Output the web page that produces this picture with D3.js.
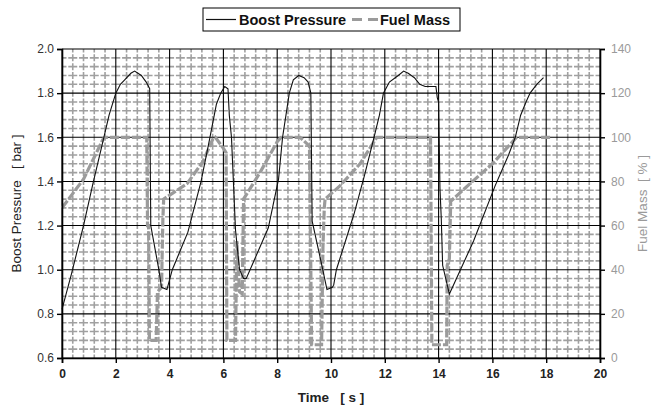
<!DOCTYPE html>
<html>
<head>
<meta charset="utf-8">
<script src="https://cdn.jsdelivr.net/npm/d3@7/dist/d3.min.js"></script>
<style>
  body { margin: 0; background: #fff; }
  svg { font-family: "Liberation Sans", Arial, sans-serif; }
</style>
</head>
<body>
<svg id="chart" width="653" height="410"></svg>
<script>
// boost pressure [bar] vs time [s]
var boostTime = [0, 0.35, 0.8, 1.15, 1.5, 1.75, 2.0, 2.17, 2.33, 2.56, 2.7, 2.95, 3.13, 3.26, 3.3, 3.6, 3.7, 3.9,
    4.1, 4.68, 5.17, 5.5, 5.74, 5.9, 6.05, 6.17, 6.22, 6.3, 6.45, 6.6, 6.75, 6.85,
    7.67, 8.05, 8.2, 8.35, 8.45, 8.6, 8.8, 9.0, 9.15, 9.25, 9.3, 9.66, 9.85, 10.05, 10.1,
    10.2, 10.85, 11.25, 11.6, 11.8, 11.95, 12.17, 12.5, 12.7, 12.87, 13.1, 13.3, 13.5, 13.9, 13.95, 14.0, 14.05, 14.1, 14.15, 14.4, 14.55,
    15.3, 16.1, 16.6, 16.85, 17.05, 17.25, 17.4, 17.65, 17.9];
var boostValue = [0.82, 0.98, 1.2, 1.39, 1.57, 1.7, 1.8, 1.84, 1.86, 1.89, 1.9, 1.88, 1.85, 1.82, 1.2, 1.0, 0.92, 0.91,
    1.0, 1.17, 1.4, 1.6, 1.75, 1.8, 1.83, 1.82, 1.7, 1.6, 1.18, 1.0, 0.96, 0.96,
    1.19, 1.41, 1.6, 1.72, 1.8, 1.86, 1.88, 1.87, 1.85, 1.8, 1.22, 1.02, 0.91, 0.92, 0.93,
    1.0, 1.25, 1.43, 1.6, 1.7, 1.8, 1.85, 1.88, 1.9, 1.89, 1.87, 1.84, 1.83, 1.83, 1.78, 1.76, 1.37, 1.23, 1.02, 0.89, 0.93,
    1.13, 1.38, 1.52, 1.6, 1.7, 1.76, 1.8, 1.84, 1.87];

// fuel mass [%] vs time [s]
var fuelTime = [0, 0.8, 1.52, 1.6, 3.15, 3.18, 3.22, 3.25, 3.5, 3.55, 3.7, 3.75, 3.78,
    4.65, 5.24, 5.6, 5.7, 6.0, 6.1, 6.13, 6.45, 6.5, 6.6, 6.7, 6.75,
    7.36, 8.0, 8.15, 8.85, 9.2, 9.28, 9.65, 9.7, 9.75, 9.78,
    10.33, 11.08, 11.7, 13.7, 13.75, 14.3, 14.32, 14.4, 14.45,
    15.17, 16.0, 16.9, 18.15];
var fuelValue = [68, 81, 99, 100, 100, 60, 60, 8, 8, 30, 32, 63, 72,
    79, 89, 99, 100, 95, 93, 8, 8, 53, 30, 29, 72,
    84, 98, 100, 100, 96, 6, 6, 50, 68, 72,
    78, 88, 100, 100, 6, 6, 42, 45, 71,
    79, 88, 100, 100];

var xTicks = [0, 2, 4, 6, 8, 10, 12, 14, 16, 18, 20];
var boostTicks = [0.6, 0.8, 1.0, 1.2, 1.4, 1.6, 1.8, 2.0];
var fuelTicks = [0, 20, 40, 60, 80, 100, 120, 140];

var svg = d3.select("#chart");
var pLeft = 62, pRight = 600, pTop = 49, pBottom = 358;

var x = d3.scaleLinear().domain([0, 20]).range([pLeft, pRight]);
var y = d3.scaleLinear().domain([0.6, 2.0]).range([pBottom, pTop]);
var y2 = d3.scaleLinear().domain([0, 140]).range([pBottom, pTop]);

// minor grid, gray with small breaks
var minorX = d3.range(0, 20.001, 0.4).filter(function (d) { return Math.abs(d / 2 - Math.round(d / 2)) > 0.01; });
var minorY = d3.range(0.6, 2.0001, 0.04).filter(function (d) { return Math.abs((d - 0.6) / 0.2 - Math.round((d - 0.6) / 0.2)) > 0.01; });
var sx = x(0.4) - x(0), sy = y(0.6) - y(0.64);

var grid = svg.append("g");
grid.selectAll(".mx").data(minorX).enter().append("line")
    .attr("x1", function (d) { return x(d); }).attr("x2", function (d) { return x(d); })
    .attr("y1", pTop).attr("y2", pBottom)
    .attr("stroke", "#a0a0a0").attr("stroke-width", 1.6)
    .attr("stroke-dasharray", (sy - 1.8) + " 1.8")
    .attr("stroke-dashoffset", (sy - 1.8) / 2);
grid.selectAll(".my").data(minorY).enter().append("line")
    .attr("x1", pLeft).attr("x2", pRight)
    .attr("y1", function (d) { return y(d); }).attr("y2", function (d) { return y(d); })
    .attr("stroke", "#a0a0a0").attr("stroke-width", 1.6)
    .attr("stroke-dasharray", (sx - 1.8) + " 1.8")
    .attr("stroke-dashoffset", (sx - 1.8) / 2);

// major grid
grid.selectAll(".gx").data(xTicks).enter().append("line")
    .attr("x1", function (d) { return x(d); }).attr("x2", function (d) { return x(d); })
    .attr("y1", pTop).attr("y2", pBottom)
    .attr("stroke", "#000").attr("stroke-width", 1.1);
grid.selectAll(".gy").data(boostTicks).enter().append("line")
    .attr("x1", pLeft).attr("x2", pRight)
    .attr("y1", function (d) { return y(d); }).attr("y2", function (d) { return y(d); })
    .attr("stroke", "#000").attr("stroke-width", 1.1);

// series
var fuelLine = d3.line()
    .x(function (d, i) { return x(fuelTime[i]); })
    .y(function (d) { return y2(d); });
svg.append("path").datum(fuelValue)
    .attr("d", fuelLine)
    .attr("fill", "none").attr("stroke", "#9b9b9b")
    .attr("stroke-width", 3.2).attr("stroke-dasharray", "9 2");

var boostLine = d3.line()
    .x(function (d, i) { return x(boostTime[i]); })
    .y(function (d) { return y(d); });
svg.append("path").datum(boostValue)
    .attr("d", boostLine)
    .attr("fill", "none").attr("stroke", "#111").attr("stroke-width", 1.1);

// axes
var xAxis = svg.append("g").attr("transform", "translate(0," + pBottom + ")")
    .call(d3.axisBottom(x).tickValues(xTicks).tickSize(5).tickPadding(6).tickFormat(d3.format("d")));
xAxis.selectAll("text").attr("font-size", 12).attr("font-weight", "bold").attr("fill", "#222");

var yAxis = svg.append("g").attr("transform", "translate(" + pLeft + ",0)")
    .call(d3.axisLeft(y).tickValues(boostTicks).tickSize(5).tickPadding(3).tickFormat(d3.format(".1f")));
yAxis.selectAll("text").attr("font-size", 12).attr("fill", "#333");

var yAxis2 = svg.append("g").attr("transform", "translate(" + pRight + ",0)")
    .call(d3.axisRight(y2).tickValues(fuelTicks).tickSize(5).tickPadding(6).tickFormat(d3.format("d")));
yAxis2.selectAll("text").attr("font-size", 12).attr("fill", "#9a9a9a");

svg.selectAll(".domain").attr("stroke", "#000").attr("stroke-width", 1.6);
svg.selectAll(".tick line").attr("stroke", "#000").attr("stroke-width", 1.4);

// axis titles
svg.append("text").attr("x", (pLeft + pRight) / 2).attr("y", 402)
    .attr("text-anchor", "middle").attr("font-size", 13.5).attr("font-weight", "bold")
    .attr("fill", "#222").attr("xml:space", "preserve").text("Time   [ s ]");
svg.append("text").attr("transform", "translate(21," + ((pTop + pBottom) / 2) + ") rotate(-90)")
    .attr("text-anchor", "middle").attr("font-size", 13.5).attr("fill", "#222")
    .attr("xml:space", "preserve").text("Boost Pressure   [ bar ]");
svg.append("text").attr("transform", "translate(647," + ((pTop + pBottom) / 2) + ") rotate(-90)")
    .attr("text-anchor", "middle").attr("font-size", 13.5).attr("fill", "#9a9a9a")
    .attr("xml:space", "preserve").text("Fuel Mass  [ % ]");

// legend
var lg = svg.append("g");
lg.append("rect").attr("x", 203).attr("y", 8).attr("width", 257).attr("height", 23)
    .attr("fill", "#fff").attr("stroke", "#000").attr("stroke-width", 1);
lg.append("line").attr("x1", 206).attr("x2", 236).attr("y1", 19.5).attr("y2", 19.5)
    .attr("stroke", "#111").attr("stroke-width", 1.2);
lg.append("text").attr("x", 239).attr("y", 25).attr("font-size", 14.5).attr("font-weight", "bold")
    .attr("fill", "#111").text("Boost Pressure");
lg.append("line").attr("x1", 352).attr("x2", 378).attr("y1", 19.5).attr("y2", 19.5)
    .attr("stroke", "#9b9b9b").attr("stroke-width", 3).attr("stroke-dasharray", "10 6");
lg.append("text").attr("x", 380).attr("y", 25).attr("font-size", 14.5).attr("font-weight", "bold")
    .attr("fill", "#111").text("Fuel Mass");
</script>
</body>
</html>
